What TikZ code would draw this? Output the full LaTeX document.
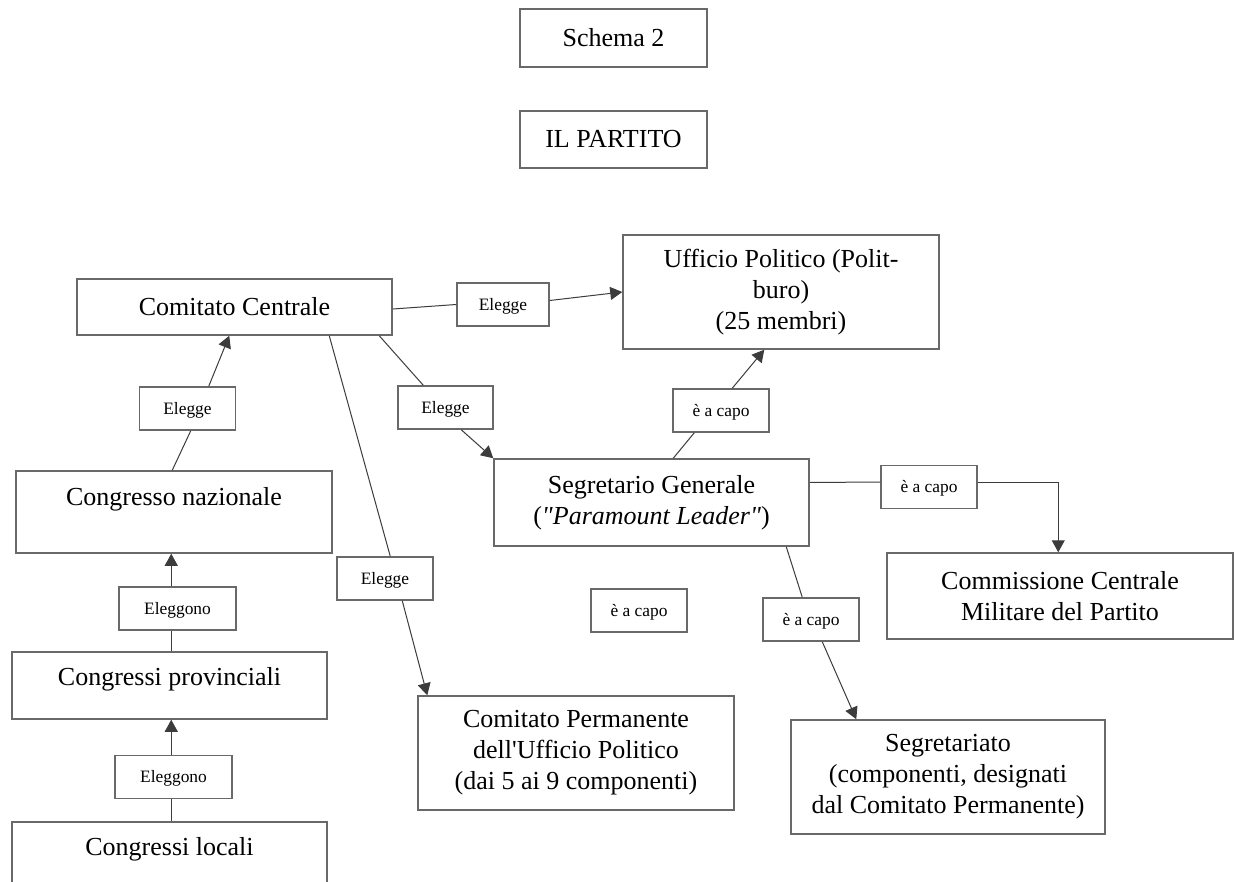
\documentclass[tikz,border=0pt]{standalone}
\usepackage{fontspec}
\setmainfont{Liberation Serif}[Ligatures=TeXOff]
\usetikzlibrary{arrows.meta,calc}
\definecolor{ptLine}{RGB}{105,105,105}
\definecolor{ptArr}{RGB}{60,60,60}

\begin{document}
\begin{tikzpicture}[
  x=0.5pt, y=-0.5pt,
  box/.style={draw=ptLine, line width=0.75pt, minimum width=157.5pt, align=center, inner sep=0pt,
              font=\fontsize{13}{15.5}\selectfont},
  cong/.style={box, text height=9pt, text depth=9pt},
  lab/.style={draw=ptLine, line width=0.75pt, minimum width=48pt, minimum height=21.5pt, inner sep=0pt,
              text height=7.5pt, text depth=1.7pt, font=\fontsize{8.7}{10}\selectfont},
  ln/.style={draw=ptArr, line width=0.5pt},
  ar/.style={ln, -{Triangle[length=6pt, width=6.5pt]}}
]

\useasboundingbox (0,0) rectangle (1235,882);
\fill[white] (0,0) rectangle (1235,882);
\clip (0,0) rectangle (1235,882);

\node[box, minimum width=93.5pt, minimum height=29pt] (s2) at (613.5,38) {Schema 2};
\node[box, minimum width=93.5pt, minimum height=28.5pt] (ip) at (613.5,139.5) {IL PARTITO};

\node[box, minimum height=28pt] (cc) at (234.5,307) {Comitato Centrale};
\node[box, minimum width=158pt, minimum height=57pt] (up) at (781,292) {Ufficio Politico (Polit-\\buro)\\(25 membri)};
\node[box, minimum width=158pt, minimum height=41pt, text height=9pt, text depth=15.4pt] (cn) at (174,512) {Congresso nazionale};
\node[cong, minimum height=33.5pt] (cp) at (169.5,685.5) {Congressi provinciali};
\node[cong, minimum height=33.5pt] (cl) at (169.5,855.5) {Congressi locali};
\node[box, minimum height=43.5pt] (sg) at (651.5,502.5) {Segretario Generale\\(\textit{"Paramount Leader"})};
\node[box, minimum width=173pt, minimum height=43pt] (cm) at (1060,596) {Commissione Centrale\\Militare del Partito};
\node[box, minimum width=158pt, minimum height=57pt] (pm) at (576,753) {Comitato Permanente\\dell'Ufficio Politico\\(dai 5 ai 9 componenti)};
\node[box, minimum width=157pt, minimum height=57pt] (sr) at (948,777) {Segretariato\\(componenti, designati\\dal Comitato Permanente)};

\node[lab, minimum width=46pt] (e1) at (503,304.5) {Elegge};
\node[lab] (e2) at (187.5,408.5) {Elegge};
\node[lab, minimum width=47.5pt] (e3) at (445.5,407.5) {Elegge};
\node[lab] (e4) at (385,578.5) {Elegge};
\node[lab, minimum width=58.5pt] (g1) at (177.5,608.5) {Eleggono};
\node[lab, minimum width=58.5pt] (g2) at (173.5,777) {Eleggono};
\node[lab] (c1) at (721,410.5) {è a capo};
\node[lab] (c2) at (929,487) {è a capo};
\node[lab] (c3) at (639,610.5) {è a capo};
\node[lab] (c4) at (811,619.5) {è a capo};

\draw[ln] ($(cc.east)+(0,2)$) -- (e1.west);
\draw[ar] ($(e1.east)+(0,-4)$) -- (up.west);

\draw[ln] ($(cn.north west)+(157,0)$) -- ($(e2.south west)+(52,0)$);
\draw[ar] ($(e2.north west)+(70,0)$) -- ($(cc.south west)+(153,0)$);

\draw[ln] ($(cp.north west)+(160,0)$) -- ($(g1.south west)+(53,0)$);
\draw[ar] ($(g1.north west)+(53,0)$) -- ($(cn.south west)+(156,0)$);
\draw[ln] ($(cl.north west)+(160,0)$) -- ($(g2.south west)+(57,0)$);
\draw[ar] ($(g2.north west)+(57,0)$) -- ($(cp.south west)+(160,0)$);

\draw[ln] ($(cc.south west)+(303,0)$) -- ($(e3.north west)+(26,0)$);
\draw[ar] ($(e3.south west)+(64,0)$) -- (sg.north west);
\draw[ln] ($(cc.south west)+(253,0)$) -- ($(e4.north west)+(54,0)$);
\draw[ar] ($(e4.south west)+(66,0)$) -- ($(pm.north west)+(10,0)$);

\draw[ln] ($(sg.north west)+(180,0)$) -- ($(c1.south west)+(22,0)$);
\draw[ar] ($(c1.north west)+(60,0)$) -- ($(up.south west)+(142,0)$);
\draw[ln] ($(sg.east)+(0,-20)$) -- ($(c2.west)+(0,-5)$);
\draw[ar] ($(c2.east)+(0,-5)$) -| ($(cm.north west)+(172,0)$);
\draw[ln] ($(sg.south west)+(293,0)$) -- ($(c4.north west)+(40,0)$);
\draw[ar] ($(c4.south west)+(60,0)$) -- ($(sr.north west)+(66,0)$);

\end{tikzpicture}
\end{document}
